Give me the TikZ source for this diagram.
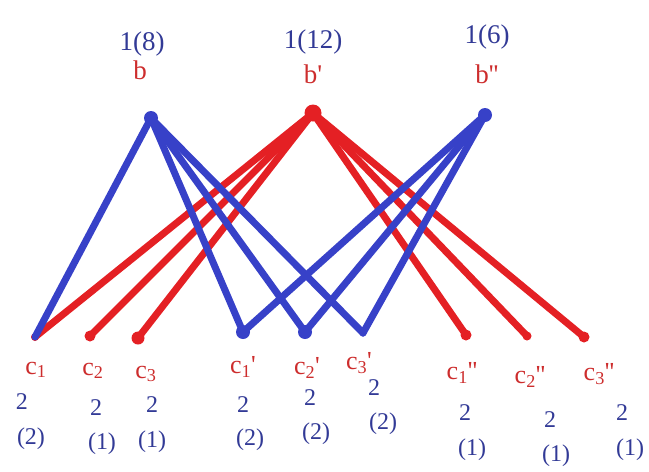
\documentclass[tikz,border=0pt]{standalone}
\usepackage{fontspec}
\setmainfont{Liberation Serif}
\usepackage{tikz}

\definecolor{penblue}{RGB}{55,65,200}
\definecolor{penred}{RGB}{228,32,36}
\definecolor{inkblue}{RGB}{50,58,150}
\definecolor{inkred}{RGB}{205,45,45}

\begin{document}
\begin{tikzpicture}[x=1pt,y=-1pt,line cap=round,line join=round,
  vtx/.style={circle,inner sep=0pt,minimum size=11pt},
  bluevtx/.style={vtx,fill=penblue},
  redvtx/.style={vtx,fill=penred},
  blueedge/.style={draw=penblue,line width=7pt},
  rededge/.style={draw=penred,line width=7pt},
  toplbl/.style={text=inkblue,font=\fontsize{27}{30}\selectfont,inner sep=0pt},
  toplet/.style={text=inkred,font=\fontsize{27}{30}\selectfont,inner sep=0pt},
  clbl/.style={text=inkred,font=\fontsize{26}{28}\selectfont,inner sep=0pt},
  numlbl/.style={text=inkblue,font=\fontsize{24}{26}\selectfont,inner sep=0pt}]
\useasboundingbox (0,0) rectangle (649,472);

% upper vertices
\node[bluevtx,minimum size=14pt] (b) at (151,118) {};
\node[redvtx,minimum size=17pt] (bp) at (313,113) {};
\node[bluevtx,minimum size=14pt] (bpp) at (485,115) {};

% lower vertices
\node[redvtx,minimum size=8pt] (c1) at (35,337) {};
\node[redvtx] (c2) at (90,336) {};
\node[redvtx,minimum size=13pt] (c3) at (138,338) {};
\node[bluevtx,minimum size=14pt] (c1p) at (243,332) {};
\node[bluevtx,minimum size=14pt] (c2p) at (305,332) {};
\node[bluevtx,minimum size=7pt] (c3p) at (363,333) {};
\node[redvtx] (c1pp) at (466,335) {};
\node[redvtx,minimum size=9pt] (c2pp) at (527,336) {};
\node[redvtx] (c3pp) at (584,337) {};

% edges of b'
\foreach \t in {c1,c2,c3,c1pp,c2pp,c3pp}
  \draw[rededge] (bp.center) -- (\t.center);
% edges of b and b''
\foreach \t in {c1,c1p,c2p,c3p}
  \draw[blueedge] (b.center) -- (\t.center);
\foreach \t in {c1p,c2p,c3p}
  \draw[blueedge] (bpp.center) -- (\t.center);

% labels on top
\node[toplbl] (nb) at (142,44) {1(8)};
\node[toplet] (lb) at (140,70) {b};
\node[toplbl] (nbp) at (313,42) {1(12)};
\node[toplet] (lbp) at (313,74) {b\textquotesingle};
\node[toplbl] (nbpp) at (487,37) {1(6)};
\node[toplet] (lbpp) at (487,74) {b\textquotesingle\textquotesingle};

% labels at the bottom
\node[clbl] (lc1) at (36,370) {c\textsubscript{1}};
\node[clbl] (lc2) at (93,371) {c\textsubscript{2}};
\node[clbl] (lc3) at (146,374) {c\textsubscript{3}};
\node[clbl] (lc1p) at (243,367) {c\textsubscript{1}\textquotesingle};
\node[clbl] (lc2p) at (307,368) {c\textsubscript{2}\textquotesingle};
\node[clbl] (lc3p) at (359,363) {c\textsubscript{3}\textquotesingle};
\node[clbl] (lc1pp) at (462,373) {c\textsubscript{1}\textquotesingle\textquotesingle};
\node[clbl] (lc2pp) at (530,377) {c\textsubscript{2}\textquotesingle\textquotesingle};
\node[clbl] (lc3pp) at (599,374) {c\textsubscript{3}\textquotesingle\textquotesingle};

\node[numlbl] (k1) at (22,402) {2};
\node[numlbl] (m1) at (31,439) {(2)};
\node[numlbl] (k2) at (96,408) {2};
\node[numlbl] (m2) at (102,444) {(1)};
\node[numlbl] (k3) at (152,405) {2};
\node[numlbl] (m3) at (152,442) {(1)};
\node[numlbl] (k4) at (243,405) {2};
\node[numlbl] (m4) at (250,440) {(2)};
\node[numlbl] (k5) at (310,398) {2};
\node[numlbl] (m5) at (316,434) {(2)};
\node[numlbl] (k6) at (374,388) {2};
\node[numlbl] (m6) at (383,424) {(2)};
\node[numlbl] (k7) at (465,413) {2};
\node[numlbl] (m7) at (472,450) {(1)};
\node[numlbl] (k8) at (550,420) {2};
\node[numlbl] (m8) at (556,456) {(1)};
\node[numlbl] (k9) at (622,413) {2};
\node[numlbl] (m9) at (630,450) {(1)};
\end{tikzpicture}
\end{document}
